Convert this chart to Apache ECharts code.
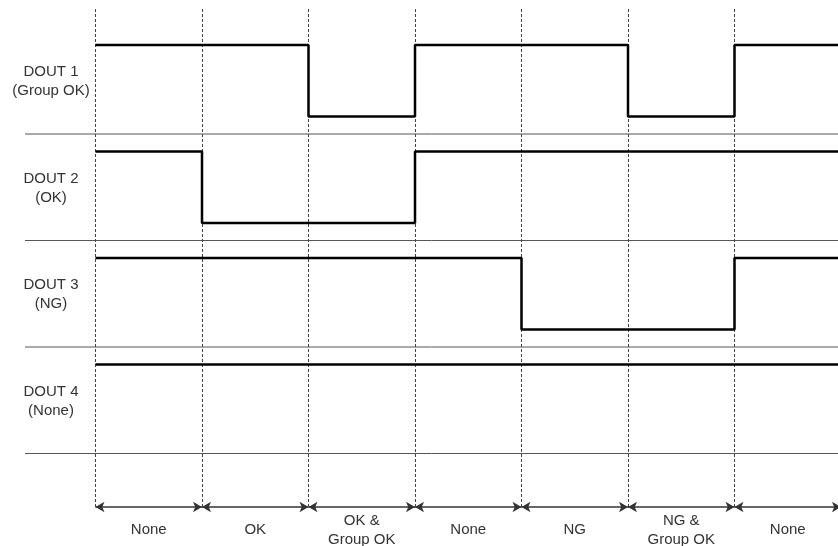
<!DOCTYPE html>
<html>
<head>
<meta charset="utf-8">
<script src="https://cdn.jsdelivr.net/npm/echarts@6/dist/echarts.min.js"></script>
<style>
  html, body { margin: 0; padding: 0; background: #fff; }
  #chart { width: 838px; height: 546px; }
</style>
</head>
<body>
<div id="chart"></div>
<script>
// phases along the time axis (one per column)
const phaseLabels = ['None', 'OK', 'OK &\nGroup OK', 'None', 'NG', 'NG &\nGroup OK', 'None']
const signalNames = ['DOUT 1\n(Group OK)', 'DOUT 2\n(OK)', 'DOUT 3\n(NG)', 'DOUT 4\n(None)']

// output level per phase (1 = high, 0 = low)
const dout1 = [1, 1, 0, 1, 1, 0, 1]
const dout2 = [1, 0, 0, 1, 1, 1, 1]
const dout3 = [1, 1, 1, 1, 0, 0, 1]
const dout4 = [1, 1, 1, 1, 1, 1, 1]
const signals = [dout1, dout2, dout3, dout4]

const PHASES = phaseLabels.length
const LEFT = 95.5
const WIDTH = 745.5
const ROW_PITCH = 106.5
const FONT = 'Liberation Sans, Arial, sans-serif'

const chart = echarts.init(document.getElementById('chart'))

// step data: each phase keeps its level until the next boundary
const toSteps = levels => levels.map((v, i) => [i, v]).concat([[levels.length, levels[levels.length - 1]]])

// the last column runs past the right edge of the picture
const gridBase = { left: LEFT, width: WIDTH, outerBoundsMode: 'none', containLabel: false }

const grids = [Object.assign({ top: 9, height: 498 }, gridBase)]
const xAxes = [
  {
    gridIndex: 0, type: 'value', min: 0, max: PHASES, interval: 1,
    axisLine: { show: false }, axisTick: { show: false }, axisLabel: { show: false },
    splitLine: { show: true, lineStyle: { color: '#444', width: 1, type: [3, 2] } }
  },
  {
    gridIndex: 0, type: 'category', data: phaseLabels, boundaryGap: true, position: 'bottom',
    axisLine: { show: false }, axisTick: { show: false }, splitLine: { show: false },
    axisLabel: {
      margin: 23, verticalAlign: 'middle', interval: 0,
      fontFamily: FONT, fontSize: 15, lineHeight: 19, color: '#333'
    }
  }
]
const yAxes = [{ gridIndex: 0, type: 'value', min: 0, max: 1, show: false }]
const series = []

signals.forEach((levels, k) => {
  grids.push(Object.assign({ top: 45 + ROW_PITCH * k, height: 71.5 }, gridBase))
  xAxes.push({ gridIndex: k + 1, type: 'value', min: 0, max: PHASES, show: false })
  yAxes.push({ gridIndex: k + 1, type: 'value', min: 0, max: 1, show: false })
  series.push({
    name: signalNames[k],
    type: 'line',
    xAxisIndex: k + 2,
    yAxisIndex: k + 1,
    step: 'end',
    symbol: 'none',
    clip: false,
    silent: true,
    data: toSteps(levels),
    lineStyle: { color: '#000', width: 2.5 }
  })
})

// double-headed arrows marking each phase
series.push({
  type: 'line',
  xAxisIndex: 0,
  yAxisIndex: 0,
  data: [],
  silent: true,
  markLine: {
    silent: true,
    symbol: ['arrow', 'arrow'],
    symbolSize: [8, 9],
    label: { show: false },
    lineStyle: { color: '#333', width: 1.5, type: 'solid' },
    data: phaseLabels.map((_, i) => [{ coord: [i, 0] }, { coord: [i + 1, 0] }])
  }
})

const separators = signalNames.map((_, k) => ({
  type: 'line',
  silent: true,
  shape: { x1: 25, y1: 134 + ROW_PITCH * k, x2: 838, y2: 134 + ROW_PITCH * k },
  style: { stroke: '#555', lineWidth: 1 }
}))

const nameTexts = signalNames.map((name, k) => ({
  type: 'text',
  silent: true,
  x: 51,
  y: 81.5 + ROW_PITCH * k,
  style: {
    text: name,
    fill: '#333',
    font: '15px ' + FONT,
    lineHeight: 19,
    align: 'center',
    verticalAlign: 'middle'
  }
}))

chart.setOption({
  backgroundColor: '#fff',
  animation: false,
  grid: grids,
  xAxis: xAxes,
  yAxis: yAxes,
  series: series,
  graphic: separators.concat(nameTexts)
})
</script>
</body>
</html>
